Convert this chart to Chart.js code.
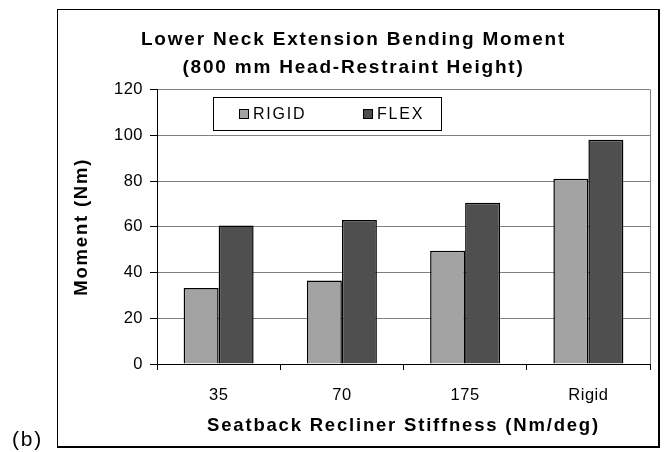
<!DOCTYPE html>
<html>
<head>
<meta charset="utf-8">
<script src="https://cdn.jsdelivr.net/npm/chart.js@4.4.1/dist/chart.umd.min.js"></script>
<style>
	html, body { margin: 0; padding: 0; background: #fff; }
	#wrap { position: relative; width: 665px; height: 452px; }
</style>
</head>
<body>
<div id="wrap"><canvas id="chart-area"></canvas></div>
<script>
var categories = ['35', '70', '175', 'Rigid'];
var rigidValues = [33.2, 36.5, 49.5, 81.0];
var flexValues = [60.5, 63.0, 70.5, 98.0];
var seriesNames = ['RIGID', 'FLEX'];
var yMin = 0;
var yMax = 120;
var yStep = 20;
var titleLines = ['Lower Neck Extension Bending Moment', '(800 mm Head-Restraint Height)'];
var xTitle = 'Seatback Recliner Stiffness (Nm/deg)';
var yTitle = 'Moment (Nm)';
var panelLabel = '(b)';

window.chartColors = {
	rigid: '#a3a3a3',
	flex: '#4f4f4f',
	grid: '#808080',
	black: '#000000'
};

var fontFamily = 'Arial, "Liberation Sans", sans-serif';
var titleSpacing = '1.8px'; // the exported chart has slightly spread title text
var tickSpacing = '0.5px';

Chart.defaults.font.family = fontFamily;
Chart.defaults.color = '#000';

// spread titles; tick labels (z: 1) are drawn after the bars with tighter spacing
var spacedText = {
	id: 'spacedText',
	beforeUpdate: function(chart) {
		chart.ctx.letterSpacing = titleSpacing;
	},
	beforeDraw: function(chart) {
		chart.ctx.letterSpacing = titleSpacing;
	},
	beforeDatasetsDraw: function(chart) {
		chart.ctx.letterSpacing = tickSpacing;
	}
};

// frame, inner legend box and the (b) label
var frameLegend = {
	id: 'frameLegend',
	beforeDraw: function(chart) {
		var c = chart.ctx;
		c.save();
		c.fillStyle = '#fff';
		c.fillRect(0, 0, chart.width, chart.height);
		c.strokeStyle = '#000';
		c.lineWidth = 1;
		c.strokeRect(57.5, 9.5, 601, 437);
		c.lineWidth = 2;
		c.beginPath();
		c.moveTo(659, 9);
		c.lineTo(659, 447);
		c.lineTo(57, 447);
		c.stroke();
		c.restore();
	},
	afterDatasetsDraw: function(chart) {
		var c = chart.ctx;
		var ca = chart.chartArea;
		var bx = Math.round(ca.left + 56);
		var by = Math.round(ca.top + 7.5);
		var bw = 228;
		var bh = 33;
		c.save();
		c.letterSpacing = titleSpacing;
		c.fillStyle = '#fff';
		c.fillRect(bx, by, bw, bh);
		c.strokeStyle = '#000';
		c.lineWidth = 1;
		c.strokeRect(bx + 0.5, by + 0.5, bw, bh);
		var offsets = [26, 150];
		c.font = '16px ' + fontFamily;
		c.textBaseline = 'middle';
		c.textAlign = 'left';
		chart.data.datasets.forEach(function(ds, i) {
			var sx = bx + offsets[i];
			var sy = by + Math.round(bh / 2) - 5;
			c.fillStyle = ds.backgroundColor;
			c.fillRect(sx, sy, 10, 10);
			c.strokeStyle = '#000';
			c.lineWidth = 1;
			c.strokeRect(sx + 0.5, sy + 0.5, 9, 9);
			c.fillStyle = '#000';
			c.fillText(ds.label, sx + 14, by + bh / 2 + 1);
		});
		c.restore();
	},
	afterDraw: function(chart) {
		var c = chart.ctx;
		c.save();
		c.letterSpacing = titleSpacing;
		c.font = '21px ' + fontFamily;
		c.fillStyle = '#000';
		c.textAlign = 'left';
		c.textBaseline = 'alphabetic';
		c.fillText(panelLabel, 12, 446);
		c.restore();
	}
};

var config = {
	type: 'bar',
	data: {
		labels: categories,
		datasets: [
			{
				label: seriesNames[0],
				data: rigidValues,
				backgroundColor: window.chartColors.rigid,
				borderColor: window.chartColors.black,
				borderWidth: 1.5,
				categoryPercentage: 0.568,
				barPercentage: 1.0
			},
			{
				label: seriesNames[1],
				data: flexValues,
				backgroundColor: window.chartColors.flex,
				borderColor: window.chartColors.black,
				borderWidth: 1.5,
				categoryPercentage: 0.568,
				barPercentage: 1.0
			}
		]
	},
	options: {
		responsive: true,
		maintainAspectRatio: false,
		animation: false,
		devicePixelRatio: 1,
		layout: {
			padding: { left: 57, right: 15, top: 9, bottom: 5 }
		},
		plugins: {
			legend: { display: false },
			tooltip: { enabled: false },
			title: {
				display: true,
				text: titleLines,
				color: '#000',
				font: { size: 19, weight: 'bold', lineHeight: 1.4737 },
				padding: { top: 17, bottom: 7.5 }
			}
		},
		scales: {
			x: {
				ticks: { color: '#000', font: { size: 16.5 }, padding: 16, z: 1 },
				grid: {
					offset: true,
					drawOnChartArea: true,
					color: function(ctx) { return ctx.type === 'tick' ? 'rgba(0,0,0,0)' : window.chartColors.grid; },
					tickColor: '#000',
					tickLength: 6
				},
				border: { color: '#000', width: 1 },
				title: {
					display: true,
					text: xTitle,
					color: '#000',
					font: { size: 18.5, weight: 'bold' },
					padding: { top: 4, bottom: 10 }
				},
				afterFit: function(s) { s.height = 83; }
			},
			y: {
				min: yMin,
				max: yMax,
				ticks: { stepSize: yStep, color: '#000', font: { size: 16.5 }, padding: 7, z: 1 },
				grid: {
					color: function(ctx) { return ctx.tick && ctx.tick.value === 0 ? 'rgba(0,0,0,0)' : window.chartColors.grid; },
					tickColor: '#000',
					tickLength: 7
				},
				border: { color: '#000', width: 1 },
				title: {
					display: true,
					text: yTitle,
					color: '#000',
					font: { size: 18.5, weight: 'bold' },
					padding: { top: 14, bottom: 0 }
				},
				afterFit: function(s) { s.width = 100; }
			}
		}
	},
	plugins: [spacedText, frameLegend]
};

var ctx01 = document.getElementById('chart-area').getContext('2d');
var chart01 = new Chart(ctx01, config);
</script>
</body>
</html>
